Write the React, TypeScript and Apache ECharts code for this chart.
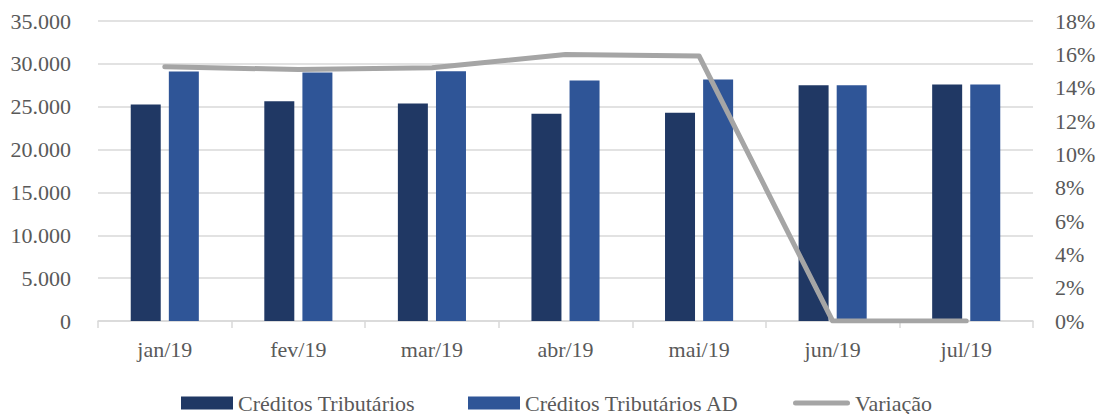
import React, { useEffect, useRef } from "react";
import * as echarts from "echarts";

const categories = ["jan/19", "fev/19", "mar/19", "abr/19", "mai/19", "jun/19", "jul/19"];
const creditos = [25250, 25650, 25380, 24170, 24290, 27510, 27590];
const creditosAD = [29110, 28990, 29140, 28060, 28180, 27510, 27590];
const variacao = [15.25, 15.09, 15.19, 15.99, 15.9, 0, 0];
const leftTicks = { min: 0, max: 35000, interval: 5000 };
const rightTicks = { min: 0, max: 18, interval: 2 };

const fmtThousands = (v: number) =>
  String(Math.round(v)).replace(/\B(?=(\d{3})+(?!\d))/g, ".");

export default function App() {
  const ref = useRef<HTMLDivElement>(null);
  useEffect(() => {
    if (!ref.current) return;
    const chart = echarts.init(ref.current, undefined, { renderer: "svg" });
    const font = "Liberation Serif";
    const labelColor = "#595959";
    const legendText = { fontFamily: font, fontSize: 22, lineHeight: 18, color: labelColor };
    const legendTop = 392;
    chart.setOption({
      animation: false,
      grid: { left: 98, right: 66, top: 21, bottom: 93 },
      legend: [
        {
          left: 181,
          top: legendTop,
          padding: 0,
          itemWidth: 52,
          itemHeight: 13,
          textStyle: legendText,
          data: [{ name: "Créditos Tributários", icon: "rect" }],
        },
        {
          left: 468,
          top: legendTop,
          padding: 0,
          itemWidth: 52,
          itemHeight: 13,
          textStyle: legendText,
          data: [{ name: "Créditos Tributários AD", icon: "rect" }],
        },
        {
          left: 793,
          top: legendTop,
          padding: 0,
          itemWidth: 57,
          itemHeight: 13,
          textStyle: legendText,
          data: [
            {
              name: "Variação",
              icon: "path://M0,0 M57,13 M2.5,4 L54.5,4 Q57,4 57,6.5 Q57,9 54.5,9 L2.5,9 Q0,9 0,6.5 Q0,4 2.5,4 Z",
              itemStyle: { color: "#A5A5A5" },
            },
          ],
        },
      ],
      xAxis: {
        type: "category",
        data: categories,
        axisLine: { lineStyle: { color: "#D9D9D9", width: 1.5 } },
        axisTick: { show: true, length: 7, lineStyle: { color: "#D9D9D9", width: 1.5 } },
        axisLabel: { color: labelColor, fontSize: 22, fontFamily: font, margin: 17 },
      },
      yAxis: [
        {
          type: "value",
          min: leftTicks.min,
          max: leftTicks.max,
          interval: leftTicks.interval,
          axisLine: { show: false },
          axisTick: { show: false },
          splitLine: { lineStyle: { color: "#D9D9D9", width: 1.5 } },
          axisLabel: {
            color: labelColor,
            fontSize: 22,
            fontFamily: font,
            margin: 27,
            formatter: (v: number) => fmtThousands(v),
          },
        },
        {
          type: "value",
          min: rightTicks.min,
          max: rightTicks.max,
          interval: rightTicks.interval,
          axisLine: { show: false },
          axisTick: { show: false },
          splitLine: { show: false },
          axisLabel: {
            color: labelColor,
            fontSize: 22,
            fontFamily: font,
            margin: 22,
            formatter: (v: number) => `${v}%`,
          },
        },
      ],
      series: [
        {
          name: "Créditos Tributários",
          type: "bar",
          data: creditos,
          barWidth: 30,
          barGap: "27%",
          itemStyle: { color: "#203864" },
        },
        {
          name: "Créditos Tributários AD",
          type: "bar",
          data: creditosAD,
          barWidth: 30,
          itemStyle: { color: "#2F5597" },
        },
        {
          name: "Variação",
          type: "line",
          yAxisIndex: 1,
          data: variacao,
          symbol: "none",
          lineStyle: { color: "#A5A5A5", width: 5, cap: "round", join: "round" },
          itemStyle: { color: "#A5A5A5" },
        },
      ],
    });
    return () => chart.dispose();
  }, []);
  return (
    <div
      ref={ref}
      style={{ position: "fixed", left: 0, top: 0, width: 1099, height: 414, background: "#fff" }}
    />
  );
}
